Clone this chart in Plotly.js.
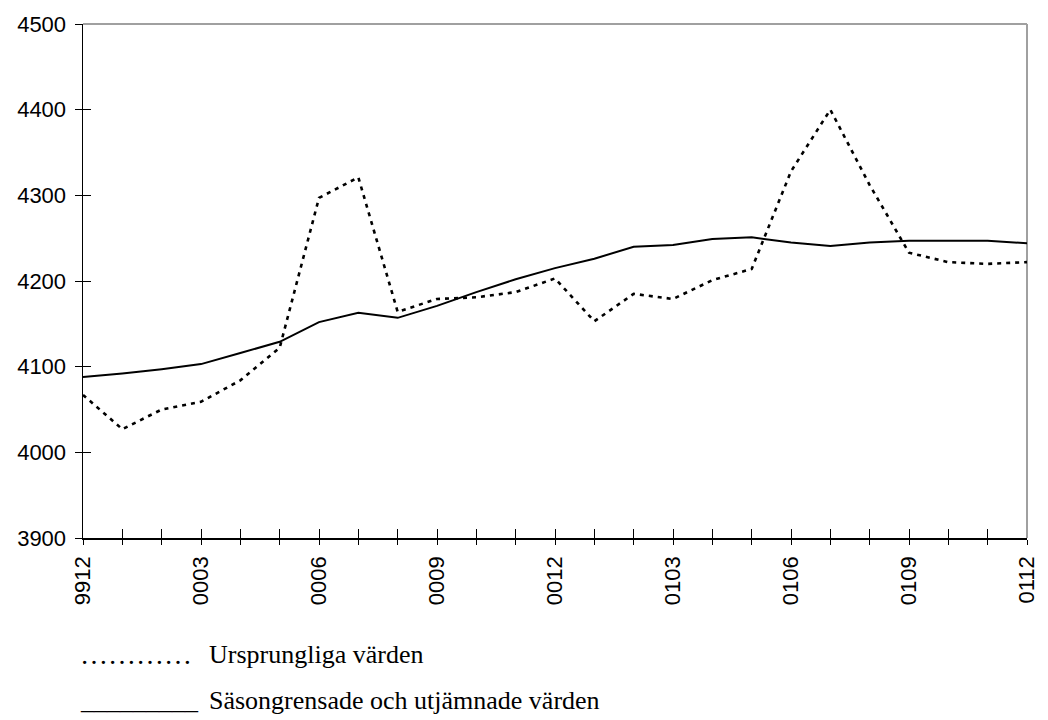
<!DOCTYPE html>
<html>
<head>
<meta charset="utf-8">
<script src="https://cdn.plot.ly/plotly-3.0.1.min.js"></script>
<style>html,body{margin:0;padding:0;background:#fff;}#chart{width:1048px;height:720px;}</style>
</head>
<body>
<div id="chart"></div>
<script>
// Month labels (YYMM)
var months = ["9912","0001","0002","0003","0004","0005","0006","0007","0008","0009","0010","0011","0012",
              "0101","0102","0103","0104","0105","0106","0107","0108","0109","0110","0111","0112"];
// Ursprungliga värden (original values)
var original = [4067,4027,4050,4059,4084,4122,4297,4321,4164,4179,4181,4187,4203,
                4153,4185,4179,4201,4214,4328,4400,4312,4233,4222,4220,4222];
// Säsongrensade och utjämnade värden (seasonally adjusted & smoothed)
var smoothed = [4088,4092,4097,4103,4116,4129,4152,4163,4157,4171,4187,4202,4215,
                4226,4240,4242,4249,4251,4245,4241,4245,4247,4247,4247,4244];
var yTicks = [3900,4000,4100,4200,4300,4400,4500];
var labelEvery = 3;
var legendOriginal = "Ursprungliga värden";
var legendSmoothed = "Säsongrensade och utjämnade värden";

var tickText = months.map(function(m,i){ return (i % labelEvery === 0) ? m : ""; });
var idx = months.map(function(m,i){ return i; });

var traces = [
  {x: months, y: smoothed, type: "scatter", mode: "lines", name: legendSmoothed,
   line: {color: "#000", width: 2}, hoverinfo: "skip"},
  {x: months, y: original, type: "scatter", mode: "lines", name: legendOriginal,
   line: {color: "#000", width: 2.6, dash: "4px,5px"}, hoverinfo: "skip"}
];

var tickFont = {family: "Liberation Sans, Arial, sans-serif", size: 22, color: "#000"};
var serif = {family: "Liberation Serif, Times New Roman, serif", size: 26, color: "#000"};

var L = 83, R = 1027, T = 24, B = 538;
function px(xp){ return (xp - L) / (R - L); }
function py(yp){ return (B - yp) / (B - T); }

var layout = {
  width: 1048, height: 720,
  margin: {l: L, r: 1048 - R, t: T, b: 720 - B, pad: 0},
  paper_bgcolor: "#fff", plot_bgcolor: "#fff",
  showlegend: false,
  xaxis: {
    type: "category", range: [0, months.length - 1],
    tickmode: "array", tickvals: months, ticktext: tickText,
    tickangle: -90, ticks: "outside", ticklen: 5, tickwidth: 1, tickcolor: "#000",
    ticklabelstandoff: 3,
    showline: true, linecolor: "#000", linewidth: 1.5,
    showgrid: false, zeroline: false, tickfont: tickFont, fixedrange: true
  },
  xaxis2: {
    overlaying: "x", type: "linear", range: [0, months.length - 1],
    tickmode: "array", tickvals: idx, showticklabels: false,
    ticks: "inside", ticklen: 9, tickwidth: 1, tickcolor: "#000",
    showline: false, showgrid: false, zeroline: false, side: "bottom"
  },
  yaxis: {
    range: [yTicks[0], yTicks[yTicks.length - 1]],
    tickmode: "array", tickvals: yTicks,
    ticks: "outside", ticklen: 7, tickwidth: 1, tickcolor: "#000",
    ticklabelstandoff: 4,
    showline: true, linecolor: "#000", linewidth: 1.5,
    showgrid: false, zeroline: false, tickfont: tickFont, fixedrange: true
  },
  yaxis2: {
    overlaying: "y", range: [yTicks[0], yTicks[yTicks.length - 1]],
    tickmode: "array", tickvals: yTicks, showticklabels: false,
    ticks: "inside", ticklen: 8, tickwidth: 1, tickcolor: "#000",
    showline: false, showgrid: false, zeroline: false, side: "left"
  },
  shapes: [
    {type: "line", xref: "paper", yref: "paper", x0: 0, x1: 1, y0: 1, y1: 1,
     line: {color: "#a0a0a0", width: 2}, layer: "below"},
    {type: "line", xref: "paper", yref: "paper", x0: 1, x1: 1, y0: 0, y1: 1,
     line: {color: "#a0a0a0", width: 2}, layer: "below"}
  ],
  annotations: [
    {xref: "paper", yref: "paper", x: px(78), y: py(654), xanchor: "left", yanchor: "middle",
     text: "…………", showarrow: false, font: {family: serif.family, size: 28, color: "#000"}},
    {xref: "paper", yref: "paper", x: px(207), y: py(654), xanchor: "left", yanchor: "middle",
     text: legendOriginal, showarrow: false, font: serif},
    {xref: "paper", yref: "paper", x: px(78), y: py(700), xanchor: "left", yanchor: "middle",
     text: "_________", showarrow: false, font: serif},
    {xref: "paper", yref: "paper", x: px(207), y: py(700), xanchor: "left", yanchor: "middle",
     text: legendSmoothed, showarrow: false, font: serif}
  ]
};

// invisible trace so the secondary (tick-only) axes render
traces.push({x: [0], y: [yTicks[0]], xaxis: "x2", yaxis: "y2", mode: "markers",
             marker: {opacity: 0}, hoverinfo: "skip", showlegend: false});

Plotly.newPlot("chart", traces, layout, {staticPlot: true, displayModeBar: false});
</script>
</body>
</html>
